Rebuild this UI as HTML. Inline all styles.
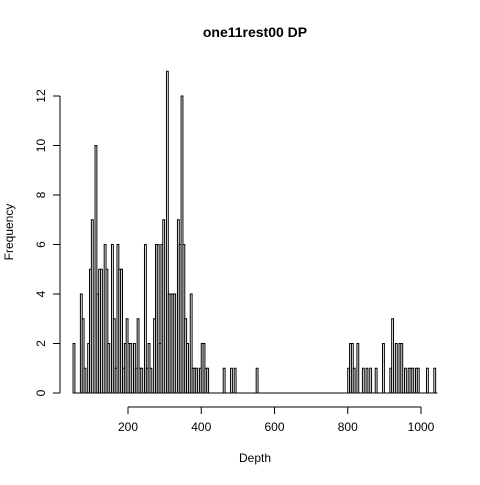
<!DOCTYPE html>
<html><head><meta charset="utf-8"><style>body{margin:0;background:#fff}svg{font-family:"Liberation Sans",sans-serif}</style></head>
<body>
<svg id="c" width="480" height="480">
<rect width="480" height="480" fill="#fff"/>
<text x="255" y="37" text-anchor="middle" font-weight="bold" font-size="14">one11rest00 DP</text>
<text x="255" y="462" text-anchor="middle" font-size="12">Depth</text>
<text x="13" y="232" text-anchor="middle" font-size="12" transform="rotate(-90 13 232)">Frequency</text>
<g id="bars"></g><g id="axes"></g>
</svg>
<script>
const binStarts=[50,70,75,80,90,95,100,110,115,120,125,135,140,145,155,160,165,170,175,180,185,190,195,200,205,215,220,225,230,235,245,250,255,260,270,275,280,285,290,295,305,310,315,320,325,335,340,345,350,355,360,370,375,380,385,395,400,405,410,415,460,480,490,550,800,805,810,815,825,840,850,860,875,895,915,920,930,940,945,955,965,970,975,985,990,1015,1035];
const counts=[2,4,3,1,2,5,7,10,4,5,5,6,5,2,6,3,1,6,5,5,1,2,3,2,2,2,1,3,1,1,6,1,2,1,3,6,6,2,6,7,13,4,4,4,4,7,6,12,6,3,2,4,1,1,1,1,2,2,1,1,1,1,1,1,1,2,2,1,2,1,1,1,1,2,1,3,2,2,2,1,1,1,1,1,1,1,1];
const xTicks=[200,400,600,800,1000];
const yTicks=[0,2,4,6,8,10,12];
const binW=5;
const X=d=>128+(d-200)*0.36625, Y=c=>393-c*24.75;
const NS="http://www.w3.org/2000/svg";
const bars=document.getElementById('bars'), axes=document.getElementById('axes');
function mk(t,a,p){const e=document.createElementNS(NS,t);for(const k in a)e.setAttribute(k,a[k]);p.appendChild(e);return e;}
binStarts.forEach((b,i)=>{
 const r=mk('rect',{x:X(b),y:Y(counts[i]),width:X(b+binW)-X(b),height:Y(0)-Y(counts[i]),fill:'#fff',stroke:'#000','stroke-width':1},bars);
 
 
});
const bl=mk('line',{x1:X(binStarts[0]),x2:X(1045),y1:393,y2:393,stroke:'#000'},bars);


const xa=mk('line',{x1:X(xTicks[0]),x2:X(xTicks[xTicks.length-1]),y1:407,y2:407,stroke:'#000'},axes);


xTicks.forEach(t=>{
 mk('line',{x1:X(t),x2:X(t),y1:407,y2:414,stroke:'#000'},axes);
 const tx=mk('text',{x:X(t),y:431,'text-anchor':'middle','font-size':12},axes);tx.textContent=t;
 
 
});
const ya=mk('line',{x1:60,x2:60,y1:Y(0),y2:Y(12),stroke:'#000'},axes);


yTicks.forEach(t=>{
 mk('line',{x1:53,x2:60,y1:Y(t),y2:Y(t),stroke:'#000'},axes);
 const tx=mk('text',{x:42,y:Y(t),'text-anchor':'middle','font-size':12,transform:`rotate(-90 42 ${Y(t)})`,'dominant-baseline':'middle'},axes);tx.textContent=t;
 
 
});
</script>
</body></html>
